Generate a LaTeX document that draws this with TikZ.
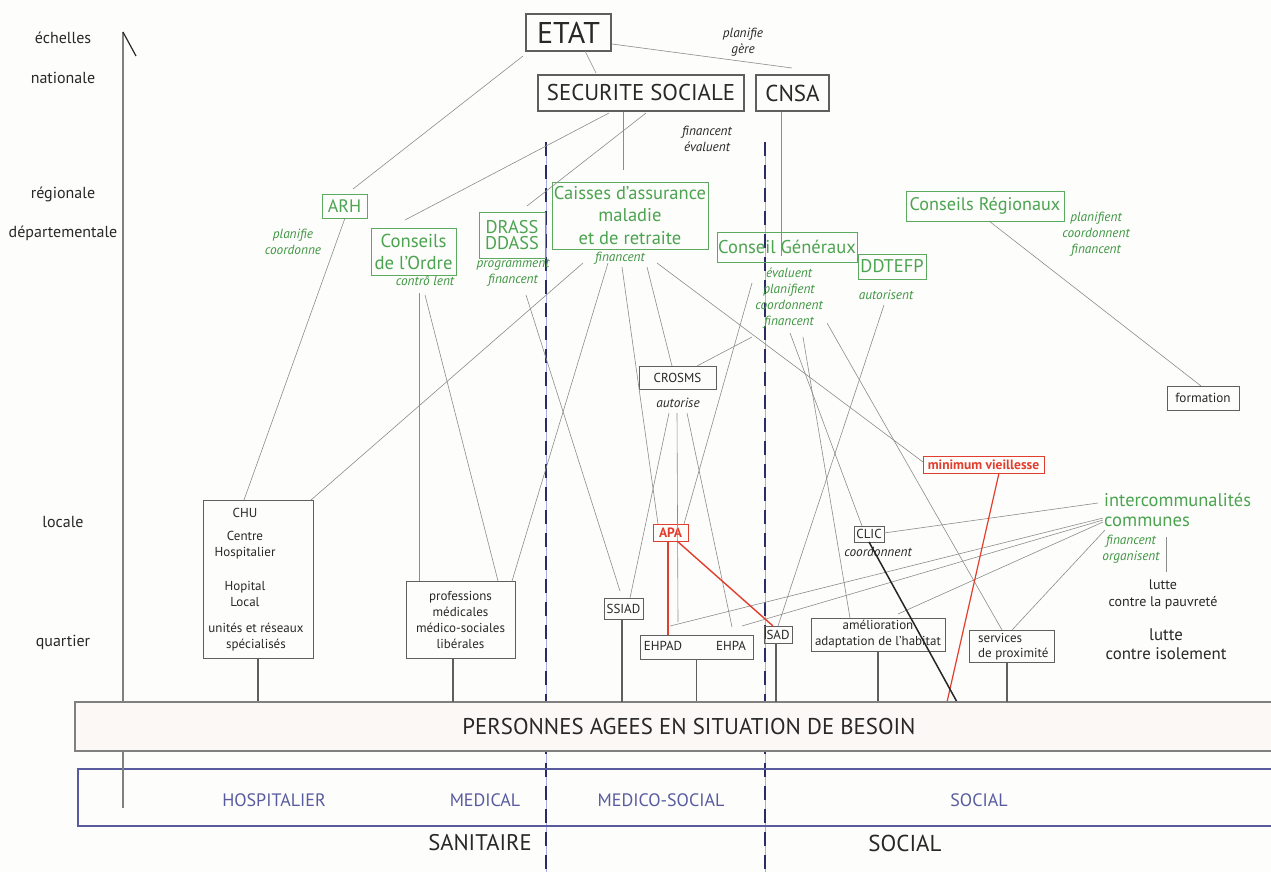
\documentclass[tikz,border=0pt]{standalone}
\usepackage{fontspec}
\setmainfont{PT Sans}
\newcommand\fsz[2]{\fontsize{#1}{#2}\selectfont}
\definecolor{bgcol}{RGB}{253,253,251}
\definecolor{tgreen}{RGB}{76,163,80}
\definecolor{bgreen}{RGB}{92,170,96}
\definecolor{lgreen}{RGB}{62,150,66}
\definecolor{dred}{RGB}{226,62,46}
\definecolor{lgray}{RGB}{140,140,140}
\definecolor{bgray}{RGB}{95,95,95}
\definecolor{navy}{RGB}{42,44,104}
\definecolor{lnavy}{RGB}{170,172,225}
\definecolor{bluet}{RGB}{88,92,158}
\definecolor{darktxt}{RGB}{40,40,40}
\definecolor{bandfill}{RGB}{252,248,245}
\begin{document}
\begin{tikzpicture}[x=1pt,y=-1pt,
  conn/.style={draw=lgray, line width=0.6pt},
  stub/.style={draw=bgray, line width=1.6pt},
  gbox/.style={draw=bgreen, line width=1pt, text=tgreen, inner sep=0pt, align=center},
  kbox/.style={draw=bgray, line width=1.3pt, text=darktxt, inner sep=0pt, align=center},
  sbox/.style={draw=bgray, line width=1pt, text=darktxt, inner sep=0pt, align=center, font=\fsz{13}{16}},
  rbox/.style={draw=dred, line width=1pt, text=dred, inner sep=0pt, align=center, font=\fsz{13.5}{14}\bfseries},
  glbl/.style={inner sep=0pt, align=center, text=lgreen, font=\fsz{13.3}{16}\itshape},
  klbl/.style={inner sep=0pt, align=center, text=darktxt, font=\fsz{13.3}{16}\itshape},
  axlbl/.style={inner sep=0pt, text=darktxt, font=\fsz{16}{16}},
  txt/.style={inner sep=0pt, align=center, text=darktxt, font=\fsz{13}{16}},
  bandlbl/.style={inner sep=0pt, text=bluet, font=\fsz{18}{18}},
  dashsep/.style={draw=navy, line width=2.2pt, dash pattern=on 14pt off 9pt},
  redl/.style={draw=dred, line width=1.4pt},
  blkl/.style={draw=black!85, line width=1.5pt}
]
\fill[bgcol] (0,0) rectangle (1271,872);
\useasboundingbox (0,0) rectangle (1271,872);

% ---- scale axis
\coordinate (axtop) at (123,32);
\coordinate (axbot) at (123,808);
\coordinate (axtick) at (136,56);
\draw[draw=gray, line width=1.5pt] (axtop) -- (axbot);
\draw[draw=darktxt, line width=1.2pt] (axtop) -- (axtick);
\node[axlbl] (s1) at (63,38) {échelles};
\node[axlbl] (s2) at (63,78) {nationale};
\node[axlbl] (s3) at (63,194) {régionale};
\node[axlbl] (s4) at (63,233) {départementale};
\node[axlbl] (s5) at (63,522) {locale};
\node[axlbl] (s6) at (63,642) {quartier};

% ---- separators
\coordinate (d1t) at (546,142); \coordinate (d1b) at (546,872);
\coordinate (d2t) at (765,142); \coordinate (d2b) at (765,872);
\draw[draw=lnavy, line width=0.6pt] (d1t) -- (d1b);
\draw[draw=lnavy, line width=0.6pt] (d2t) -- (d2b);
\draw[dashsep] (d1t) -- (d1b);
\draw[dashsep] (d2t) -- (d2b);

% ---- national
\node[kbox, minimum width=85, minimum height=37, font=\fsz{30}{30}] (etat) at (568.5,32.5) {ETAT};
\node[kbox, minimum width=206, minimum height=36, font=\fsz{22.8}{22.8}] (secu) at (641,93) {SECURITE SOCIALE};
\node[kbox, minimum width=73, minimum height=36, font=\fsz{23}{23}] (cnsa) at (792.5,93) {CNSA};
\node[klbl] (etatl) at (743,42.5) {planifie\\gère};
\node[klbl] (secul) at (707,139) {financent\\évaluent};

% ---- regional / departmental
\node[gbox, minimum width=156, minimum height=67, font=\fsz{18.5}{22.5}] (caisses) at (630,215.5) {Caisses d'assurance\\maladie\\et de retraite};
\node[glbl] (caissesl) at (620,258) {financent};
\node[gbox, minimum width=66, minimum height=46, font=\fsz{18.4}{16}] (drass) at (512,235) {DRASS\\DDASS};
\node[glbl] (drassl) at (513,273) {programment\\financent};
\node[gbox, minimum width=45, minimum height=24, font=\fsz{18}{18}] (arh) at (344.5,206) {ARH};
\node[glbl] (arhl) at (293,242) {planifie\\coordonne};
\node[gbox, minimum width=85, minimum height=47, font=\fsz{18.7}{22}] (ordre) at (413.5,251.5) {Conseils\\de l'Ordre};
\node[glbl] (ordrel) at (425,281) {contrô lent};
\node[gbox, minimum width=140, minimum height=30, font=\fsz{18.5}{18.5}] (cg) at (787,247) {Conseil Généraux};
\node[glbl] (cgl) at (789,298.5) {évaluent\\planifient\\coordonnent\\financent};
\node[gbox, minimum width=68, minimum height=25, font=\fsz{18.4}{18.4}] (ddtefp) at (892,266.5) {DDTEFP};
\node[glbl] (ddtefpl) at (886,295) {autorisent};
\node[gbox, minimum width=158, minimum height=30, font=\fsz{18.2}{18.2}] (cr) at (985,206) {Conseils Régionaux};
\node[glbl] (crl) at (1096,234) {planifient\\coordonnent\\financent};

% ---- intermediate
\node[sbox, minimum width=72, minimum height=24, font=\fsz{13.2}{13.2}] (formation) at (1203,398) {formation};
\node[sbox, minimum width=77, minimum height=23] (crosms) at (677.5,377.5) {CROSMS};
\node[klbl] (crosmsl) at (678,403) {autorise};
\node[rbox, minimum width=35, minimum height=17] (apa) at (670.5,532.5) {APA};
\node[rbox, minimum width=121, minimum height=17] (minvi) at (983.5,464.5) {minimum vieillesse};
\node[sbox, minimum width=30, minimum height=16] (clic) at (869,534) {CLIC};
\node[klbl] (clicl) at (878,552) {coordonnent};

% ---- local
\node[inner sep=0pt, anchor=west, text=tgreen, font=\fsz{18.4}{18.4}] (interco) at (1104,500) {intercommunalités};
\node[inner sep=0pt, anchor=west, text=tgreen, font=\fsz{18.6}{18.6}] (communes) at (1104,522) {communes};
\node[glbl] (communesl) at (1131,549.5) {financent\\organisent};
\node[txt, font=\fsz{14}{17}] (pauv) at (1163,594.5) {lutte\\contre la pauvreté};
\node[txt, font=\fsz{16.8}{19}] (isol) at (1166,644) {lutte\\contre isolement};

\node[sbox, minimum width=110, minimum height=158] (chu) at (258,579) {};
\node[txt] (chu1) at (245,513) {CHU};
\node[txt] (chu2) at (245,545) {Centre\\Hospitalier};
\node[txt] (chu3) at (245,594) {Hopital\\Local};
\node[txt] (chu4) at (256,637) {unités et réseaux\\spécialisés};
\node[sbox, minimum width=109, minimum height=77] (prof) at (460.5,619.5) {professions\\médicales\\médico-sociales\\libérales};
\node[sbox, minimum width=39, minimum height=21] (ssiad) at (623.5,608.5) {SSIAD};
\node[sbox, minimum width=113, minimum height=24] (ehpad) at (696.5,647) {};
\node[txt] (ehpad1) at (663,646) {EHPAD};
\node[txt] (ehpad2) at (731,646) {EHPA};
\node[sbox, minimum width=28, minimum height=17] (sad) at (778,634.5) {SAD};
\node[sbox, minimum width=134, minimum height=33] (amel) at (878,634.5) {amélioration\\adaptation de l'habitat};
\node[sbox, minimum width=85, minimum height=32] (serv) at (1011.5,646) {};
\node[txt, anchor=west] (serv1) at (978,637.5) {services};
\node[txt, anchor=west] (serv2) at (978,654) {de proximité};

% ---- connectors
\coordinate (a1) at (523,56);  \coordinate (b1) at (353,189);
\coordinate (a2) at (585,51);  \coordinate (b2) at (596,73);
\coordinate (a3) at (612,44);  \coordinate (b3) at (792,68);
\coordinate (a4) at (609,113); \coordinate (b4) at (405,220);
\coordinate (a5) at (646,113); \coordinate (b5) at (527,206);
\coordinate (a6) at (623,112); \coordinate (b6) at (623,170);
\coordinate (a7) at (781,112); \coordinate (b7) at (781,256);
\coordinate (a8) at (345,218); \coordinate (b8) at (244,500);
\coordinate (a9) at (419,293); \coordinate (b9) at (419,581);
\coordinate (a10) at (425,295); \coordinate (b10) at (498,581);
\coordinate (a11) at (526,295); \coordinate (b11) at (620,591);
\coordinate (a12) at (583,263); \coordinate (b12) at (311,500);
\coordinate (a13) at (608,263); \coordinate (b13) at (512,581);
\coordinate (a14) at (622,267); \coordinate (b14) at (658,524);
\coordinate (a15) at (647,267); \coordinate (b15) at (672,366);
\coordinate (a16) at (657,263); \coordinate (b16) at (923,462);
\coordinate (a17) at (752,283); \coordinate (b17) at (684,524);
\coordinate (a18) at (752,337); \coordinate (b18) at (697,366);
\coordinate (a19) at (790,333); \coordinate (b19) at (862,526);
\coordinate (a20) at (803,337); \coordinate (b20) at (850,618);
\coordinate (a21) at (827,323); \coordinate (b21) at (1002,630);
\coordinate (a22) at (884,305); \coordinate (b22) at (778,626);
\coordinate (a23) at (989,221); \coordinate (b23) at (1201,386);
\coordinate (a24) at (669,413); \coordinate (b24) at (630,598);
\coordinate (a25) at (677,413); \coordinate (b25) at (678,622);
\coordinate (a26) at (687,413); \coordinate (b26) at (732,627);
\coordinate (a27) at (1098,503); \coordinate (b27) at (884,533);
\coordinate (a28) at (1103,518); \coordinate (b28) at (670,626);
\coordinate (a29) at (1103,520); \coordinate (b29) at (742,626);
\coordinate (a30) at (1103,522); \coordinate (b30) at (898,614);
\coordinate (a31) at (1105,530); \coordinate (b31) at (1012,630);
\coordinate (a32) at (1166,537); \coordinate (b32) at (1166,572);
\foreach \i in {1,...,32} { \draw[conn] (a\i) -- (b\i); }

% red and black links
\coordinate (r1a) at (668,541); \coordinate (r1b) at (668,635);
\coordinate (r2a) at (677,541); \coordinate (r2b) at (773,626);
\coordinate (r3a) at (999,473); \coordinate (r3b) at (947,702);
\coordinate (k1a) at (869,542); \coordinate (k1b) at (957,702);
\draw[redl] (r1a) -- (r1b);
\draw[redl] (r2a) -- (r2b);
\draw[draw=dred, line width=1.2pt] (r3a) -- (r3b);
\draw[blkl] (k1a) -- (k1b);

% ---- bands
\node[draw=gray, line width=1.3pt, fill=bandfill, minimum width=1200, minimum height=49, inner sep=0pt] (pers) at (675,726.5) {};
\node[inner sep=0pt, text=darktxt, font=\fsz{22.8}{22.8}] (perst) at (689,727) {PERSONNES AGEES EN SITUATION DE BESOIN};
\node[draw=bluet, line width=1.2pt, minimum width=1197, minimum height=57, inner sep=0pt] (sect) at (676.5,797.5) {};
\draw[draw=gray, line width=1.5pt] (123,751) -- (axbot);
\node[bandlbl] (hosp) at (274,800) {HOSPITALIER};
\node[bandlbl] (med) at (485,800) {MEDICAL};
\node[bandlbl] (medsoc) at (661,800) {MEDICO-SOCIAL};
\node[bandlbl] (soc) at (979,800) {SOCIAL};
\node[inner sep=0pt, text=darktxt, font=\fsz{22.6}{22.6}] (sanit) at (480,843) {SANITAIRE};
\node[inner sep=0pt, text=darktxt, font=\fsz{23}{23}] (socl) at (905,843) {SOCIAL};

% ---- stubs to the band
\draw[stub] (chu.south) -- (chu.south |- pers.north);
\draw[stub] (453,658) -- (453,702);
\draw[stub] (622,619) -- (622,702);
\draw[stub] (ehpad.south) -- (ehpad.south |- pers.north);
\draw[stub] (776,643) -- (776,702);
\draw[stub] (amel.south) -- (amel.south |- pers.north);
\draw[stub] (1007,662) -- (1007,702);
\end{tikzpicture}
\end{document}
